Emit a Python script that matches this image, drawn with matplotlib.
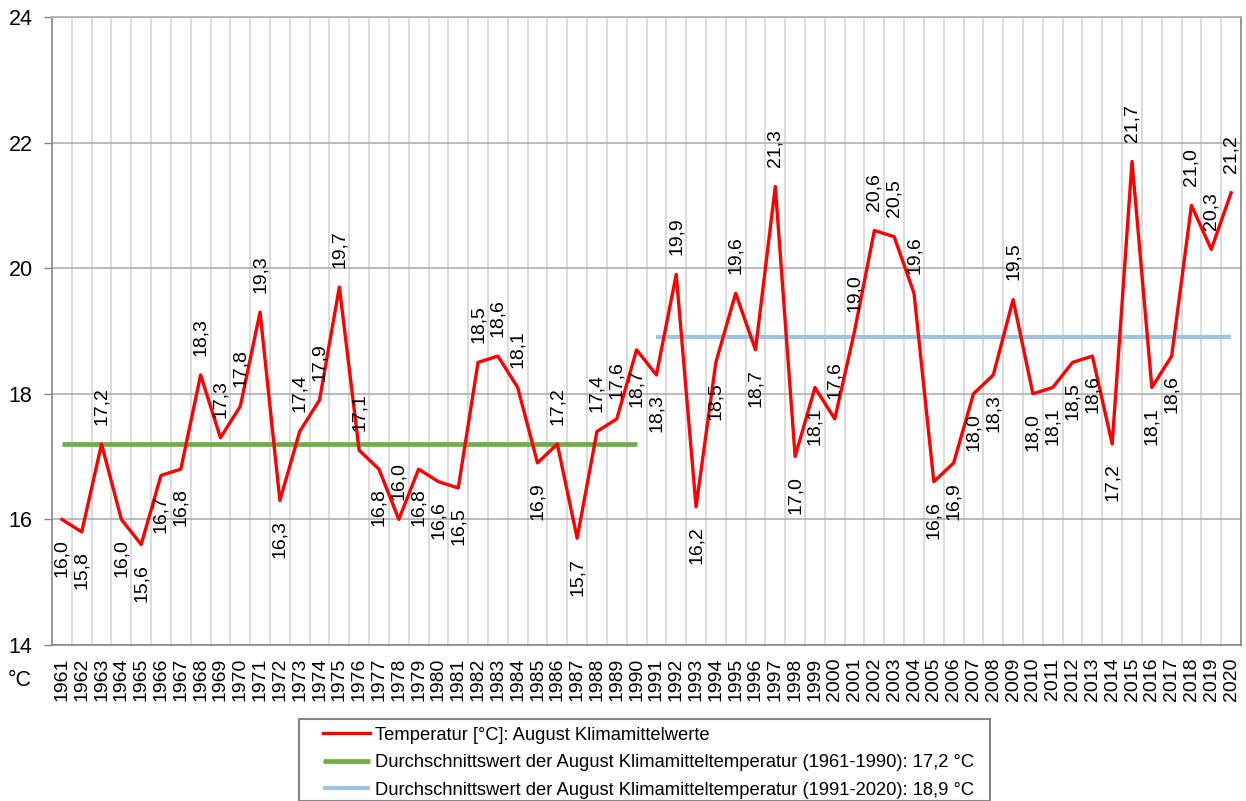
import matplotlib
matplotlib.use("Agg")
import matplotlib.pyplot as plt
from matplotlib.patches import Rectangle

plt.rcParams["font.family"] = ["Liberation Sans", "DejaVu Sans"]

years = list(range(1961, 2021))
temps = [
    16.0, 15.8, 17.2, 16.0, 15.6, 16.7, 16.8, 18.3, 17.3, 17.8,
    19.3, 16.3, 17.4, 17.9, 19.7, 17.1, 16.8, 16.0, 16.8, 16.6,
    16.5, 18.5, 18.6, 18.1, 16.9, 17.2, 15.7, 17.4, 17.6, 18.7,
    18.3, 19.9, 16.2, 18.5, 19.6, 18.7, 21.3, 17.0, 18.1, 17.6,
    19.0, 20.6, 20.5, 19.6, 16.6, 16.9, 18.0, 18.3, 19.5, 18.0,
    18.1, 18.5, 18.6, 17.2, 21.7, 18.1, 18.6, 21.0, 20.3, 21.2,
]
# where each value label sits: a = above the point, b = below
label_side = (
    "bbabbbbaaa"
    "abaaaababb"
    "baaababaab"
    "babbababba"
    "aaaabbbbab"
    "bbbbabbaaa"
)

mean_old = 17.2   # 1961-1990
mean_new = 18.9   # 1991-2020
old_period = (1961, 1990)
new_period = (1991, 2020)

label_temp = "Temperatur [°C]: August Klimamittelwerte"
label_old = "Durchschnittswert der August Klimamitteltemperatur (1961-1990): 17,2 °C"
label_new = "Durchschnittswert der August Klimamitteltemperatur (1991-2020): 18,9 °C"


def fmt(v):
    return f"{v:.1f}".replace(".", ",")


fig = plt.figure(figsize=(12.46, 8.01), dpi=100)
ax = fig.add_axes([52 / 1246, 1 - 645 / 801, (1241 - 52) / 1246, (645 - 17) / 801])

x = list(range(len(years)))
i_old = [years.index(y) for y in old_period]
i_new = [years.index(y) for y in new_period]

line_old, = ax.plot(i_old, [mean_old, mean_old], color="#70AD47", linewidth=3.4,
                    solid_capstyle="butt", zorder=3)
line_new, = ax.plot(i_new, [mean_new, mean_new], color="#9DC3E6", linewidth=3.0,
                    solid_capstyle="butt", zorder=3)
line_temp, = ax.plot(x, temps, color="#FF0000", linewidth=2.4, zorder=4)

for xi, v, side in zip(x, temps, label_side):
    if side == "a":
        off, va = 14, "bottom"
    else:
        off, va = -14, "top"
    ax.annotate(fmt(v), (xi, v), xytext=(0, off), textcoords="offset points",
                rotation=90, ha="center", va=va, fontsize=14, zorder=5)

ax.set_xlim(-0.5, len(years) - 0.5)
ax.set_ylim(14, 24)
ax.set_yticks([14, 16, 18, 20, 22, 24])
ax.set_xticks(x)
ax.set_xticklabels([str(y) for y in years], rotation=90, fontsize=14)
ax.set_xticks([i + 0.5 for i in x[:-1]], minor=True)

ax.tick_params(axis="y", labelsize=15.5, length=6, width=1, color="#868686", pad=8)
ax.tick_params(axis="x", which="both", length=0, pad=9)

ax.grid(axis="y", which="major", color="#AFAFAF", linewidth=1.2)
ax.grid(axis="x", which="minor", color="#D6D6D6", linewidth=1.2)
ax.set_axisbelow(True)

for name in ["left", "bottom", "right"]:
    ax.spines[name].set_color("#868686")
    ax.spines[name].set_linewidth(1.2)
ax.spines["top"].set_color("#AFAFAF")
ax.spines["top"].set_linewidth(1.2)

fig.text(19.5 / 1246, 1 - 680 / 801, "°C", fontsize=15.5, ha="center", va="center")

# legend box, cut by the bottom edge like in the original
fig.patches.append(Rectangle((299 / 1246, 0), (990 - 299) / 1246, (801 - 719) / 801,
                             transform=fig.transFigure, fill=False,
                             edgecolor="#868686", linewidth=1.5))
fig.legend([line_temp, line_old, line_new], [label_temp, label_old, label_new],
           loc="upper left", bbox_to_anchor=(306 / 1246, 1 - 710 / 801),
           frameon=False, fontsize=13.2, handlelength=2.6, handletextpad=0.25,
           labelspacing=0.58, borderpad=0.4)

fig.savefig("out.png", dpi=100)
